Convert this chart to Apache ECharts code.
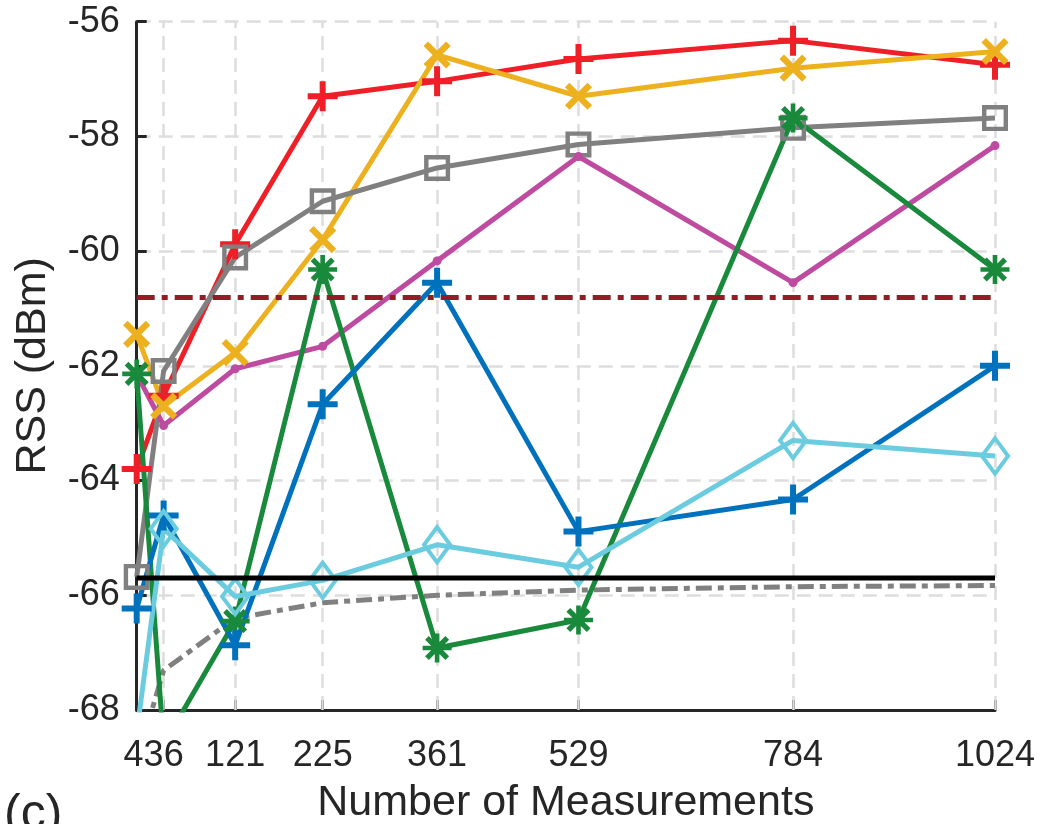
<!DOCTYPE html>
<html>
<head>
<meta charset="utf-8">
<script src="https://cdn.jsdelivr.net/npm/echarts@6/dist/echarts.min.js"></script>
<style>
html,body{margin:0;padding:0;background:#fff;}
#chart{width:1041px;height:824px;}
</style>
</head>
<body>
<div id="chart"></div>
<script>
// ---- data ----
var xTicks = [4, 36, 121, 225, 361, 529, 784, 1024];
var yTicks = [-68, -66, -64, -62, -60, -58, -56];

var redPlus      = [-63.80, -62.52, -59.88, -57.30, -57.04, -56.65, -56.33, -56.75];
var yellowCross  = [-61.45, -62.70, -61.77, -59.80, -56.58, -57.30, -56.81, -56.52];
var graySquare   = [-65.68, -62.09, -60.11, -59.13, -58.55, -58.14, -57.85, -57.68];
var magentaDot   = [-62.15, -63.04, -62.05, -61.66, -60.17, -58.35, -60.55, -58.16];
var greenStar    = [-62.14, -68.60, -66.45, -60.32, -66.92, -66.43, -57.68, -60.32];
var bluePlus     = [-66.23, -64.61, -66.87, -62.67, -60.55, -64.89, -64.33, -62.00];
var cyanDiamond  = [-68.40, -64.84, -66.02, -65.74, -65.12, -65.51, -63.30, -63.57];
var grayDashDot  = [-68.90, -67.31, -66.40, -66.13, -66.00, -65.91, -65.85, -65.83];

var blackLevel   = -65.70;
var darkRedLevel = -60.81;

// off-plot stubs at the right edge (partly cut off in the figure)
var stubX        = [1047, 1100];
var stubLevels   = [-56.78, -65.58];

// ---- helpers ----
function pairs(ys) { return xTicks.map(function (x, i) { return [x, ys[i]]; }); }
function flat(v) { return [[xTicks[0], v], [xTicks[xTicks.length - 1], v]]; }

var FONT = "'Liberation Sans', Arial, Helvetica, sans-serif";
var TXT = '#262626';

var PLUS = 'path://M40,0H60V100H40Z M0,40H100V60H0Z';
var STAR = 'path://M42,0H58V100H42Z M0,42H100V58H0Z' +
           'M21.4,8.6L91.4,78.6L78.6,91.4L8.6,21.4Z' +
           'M91.4,21.4L21.4,91.4L8.6,78.6L78.6,8.6Z';
var SQUARE = 'path://M0,0H100V100H0Z M17,17V83H83V17Z';
var DIAMOND = 'path://M50,0L100,50L50,100L0,50Z M50,16L16,50L50,84L84,50Z';

function dataSeries(name, ys, color, symbol, size, extra) {
  var s = {
    name: name, type: 'line', data: pairs(ys),
    symbol: symbol, symbolSize: size, showAllSymbol: true,
    lineStyle: { color: color, width: 5 },
    itemStyle: { color: color, borderWidth: 0, borderColor: color },
    emphasis: { disabled: true },
    z: 3
  };
  if (extra) for (var k in extra) s[k] = extra[k];
  return s;
}

var series = [
  { // vertical dashed grid lines at the tick values (the first one is the axis itself)
    type: 'line', data: [], silent: true, z: 1,
    markLine: {
      z: 1, silent: true, symbol: ['none', 'none'], label: { show: false },
      lineStyle: { color: '#DDDDDD', width: 2.5, type: [14, 8] },
      data: xTicks.slice(1).map(function (v) { return { xAxis: v }; })
    }
  },
  {
    name: 'gray dash-dot', type: 'line', data: pairs(grayDashDot), symbol: 'none',
    lineStyle: { color: '#808080', width: 5, type: [16, 6, 6, 6] }, z: 2
  },
  dataSeries('red', redPlus, '#EE1F26', PLUS, 30),
  dataSeries('yellow', yellowCross, '#EDB120', PLUS, 32, { symbolRotate: 45 }),
  dataSeries('gray', graySquare, '#808080', SQUARE, 26),
  dataSeries('magenta', magentaDot, '#BE4BA0', 'circle', 9),
  dataSeries('green', greenStar, '#19893C', STAR, 29),
  dataSeries('blue', bluePlus, '#0072BD', PLUS, 30),
  dataSeries('cyan', cyanDiamond, '#6BCCE0', DIAMOND, [31, 42]),
  {
    name: 'black level', type: 'line', data: flat(blackLevel), symbol: 'none',
    lineStyle: { color: '#000000', width: 5 }, z: 4
  },
  {
    name: 'dark red level', type: 'line', data: flat(darkRedLevel), symbol: 'none',
    lineStyle: { color: '#921D26', width: 5, type: [18, 7, 6, 7] }, z: 4
  }
];
stubLevels.forEach(function (v) {
  series.push({
    type: 'line', clip: false, symbol: 'none', silent: true,
    data: stubX.map(function (x) { return [x, v]; }),
    lineStyle: { color: '#C24A48', width: 8 }, z: 4
  });
});

var option = {
  animation: false,
  backgroundColor: '#ffffff',
  grid: { left: 136.7, top: 21.7, right: 46, bottom: 114, containLabel: false,
          outerBoundsMode: 'none' },
  xAxis: {
    type: 'value', min: xTicks[0], max: xTicks[xTicks.length - 1],
    name: 'Number of Measurements', nameLocation: 'middle', nameGap: 72,
    nameTextStyle: { fontFamily: FONT, fontSize: 43, color: TXT },
    axisLine: { show: true, onZero: false, lineStyle: { color: TXT, width: 3 } },
    axisTick: { show: true, inside: true, length: 10, customValues: xTicks,
                lineStyle: { color: TXT, width: 3 } },
    axisLabel: {
      customValues: xTicks, margin: 28, fontFamily: FONT, fontSize: 36, color: TXT,
      hideOverlap: false, showMinLabel: false, showMaxLabel: true,
      // the labels of the first two ticks touch ("436"); the first one is drawn
      // in front of the second so that neither gets dropped as overlapping
      formatter: function (v) {
        if (v === xTicks[1]) return '{a|' + xTicks[0] + '}{b|' + xTicks[1] + '}';
        if (v === xTicks[0]) return '';
        return String(v);
      },
      rich: {
        a: { fontFamily: FONT, fontSize: 36, color: TXT },
        b: { fontFamily: FONT, fontSize: 36, color: TXT, padding: [0, 20, 0, 0] }
      }
    },
    splitLine: { show: false }
  },
  yAxis: {
    type: 'value', min: yTicks[0], max: yTicks[yTicks.length - 1], interval: 2,
    name: 'RSS (dBm)', nameLocation: 'middle', nameGap: 82, nameRotate: 90,
    nameTextStyle: { fontFamily: FONT, fontSize: 43, color: TXT },
    axisLine: { show: true, onZero: false, lineStyle: { color: TXT, width: 3 } },
    axisTick: { show: true, inside: true, length: 10, lineStyle: { color: TXT, width: 3 } },
    axisLabel: { margin: 17, fontFamily: FONT, fontSize: 36, color: TXT },
    splitLine: { show: true, lineStyle: { color: '#DDDDDD', width: 2.5, type: [14, 8] } }
  },
  graphic: [{
    type: 'text', left: 4, top: 790, silent: true,
    style: { text: '(c)', fontFamily: FONT, fontSize: 50, fill: TXT }
  }],
  series: series
};

var chart = echarts.init(document.getElementById('chart'), null, { renderer: 'canvas' });
chart.setOption(option);
</script>
</body>
</html>
